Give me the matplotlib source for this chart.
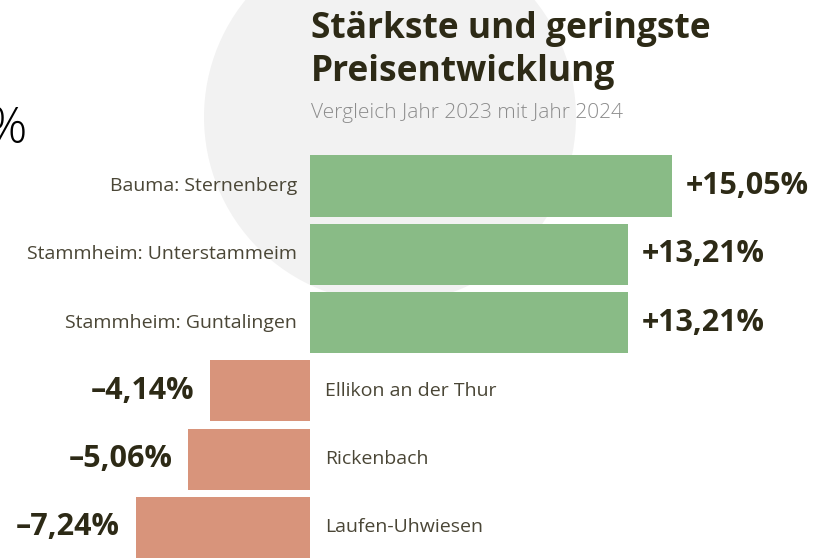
import matplotlib
matplotlib.use("Agg")
import matplotlib.pyplot as plt
from matplotlib.patches import Circle

# --------------------------------------------------
# Data
# --------------------------------------------------
places = ["Bauma: Sternenberg", "Stammheim: Unterstammeim", "Stammheim: Guntalingen",
          "Ellikon an der Thur", "Rickenbach", "Laufen-Uhwiesen"]
changes = [15.05, 13.21, 13.21, -4.14, -5.06, -7.24]
value_labels = ["+15,05%", "+13,21%", "+13,21%", "\u20134,14%", "\u20135,06%", "\u20137,24%"]

title_lines = ["Stärkste und geringste", "Preisentwicklung"]
subtitle = "Vergleich Jahr 2023 mit Jahr 2024"

green = "#89bb86"
salmon = "#d8947b"
dark = "#2d2a16"
label_col = "#4a4636"
sub_col = "#8c8c8c"

plt.rcParams["font.family"] = ["Open Sans", "DejaVu Sans"]

W, H = 815, 558
fig = plt.figure(figsize=(W / 100, H / 100), dpi=100)

# background circle (figure inches)
fig.add_artist(Circle((3.90, (H - 117) / 100), 1.86, transform=fig.dpi_scale_trans,
                      facecolor="#f2f2f2", edgecolor="none", zorder=0))

ax = fig.add_axes([0, 0, 1, 1])
ax.set_facecolor("none")
ax.set_zorder(1)

px_per_unit = 24.05
zero_px = 310
row_px = 68.3
first_px = 186
ax.set_xlim(-zero_px / px_per_unit, (W - zero_px) / px_per_unit)
ax.set_ylim((H - first_px) / row_px, -first_px / row_px)
ax.axis("off")

ypos = list(range(len(places)))
colors = [green if v > 0 else salmon for v in changes]
ax.barh(ypos, changes, height=0.895, color=colors, zorder=2)

gap_pos = 14 / px_per_unit
gap_neg = 16 / px_per_unit
lab_gap = 13 / px_per_unit
for y, v, name, vl in zip(ypos, changes, places, value_labels):
    if v > 0:
        ax.text(-lab_gap, y, name, ha="right", va="center", fontsize=14,
                color=label_col)
        ax.text(v + gap_pos, y, vl, ha="left", va="center", fontsize=22,
                fontweight="bold", color=dark)
    else:
        ax.text(15 / px_per_unit, y, name, ha="left", va="center", fontsize=14,
                color=label_col)
        ax.text(v - gap_neg, y, vl, ha="right", va="center", fontsize=22,
                fontweight="bold", color=dark)

# titles
fig.text(311 / W, 1 - 38 / H, title_lines[0], ha="left", va="baseline",
         fontsize=25.5, fontweight="bold", color=dark)
fig.text(311 / W, 1 - 81 / H, title_lines[1], ha="left", va="baseline",
         fontsize=25.5, fontweight="bold", color=dark)
fig.text(311 / W, 1 - 118 / H, subtitle, ha="left", va="baseline", fontsize=15,
         color=sub_col, fontweight="light")

# stray percent sign at left edge
fig.text(-14 / W, 1 - 143 / H, "%", ha="left", va="baseline", fontsize=36, color="black",
         fontweight="light")

fig.savefig("out.png", dpi=100)
